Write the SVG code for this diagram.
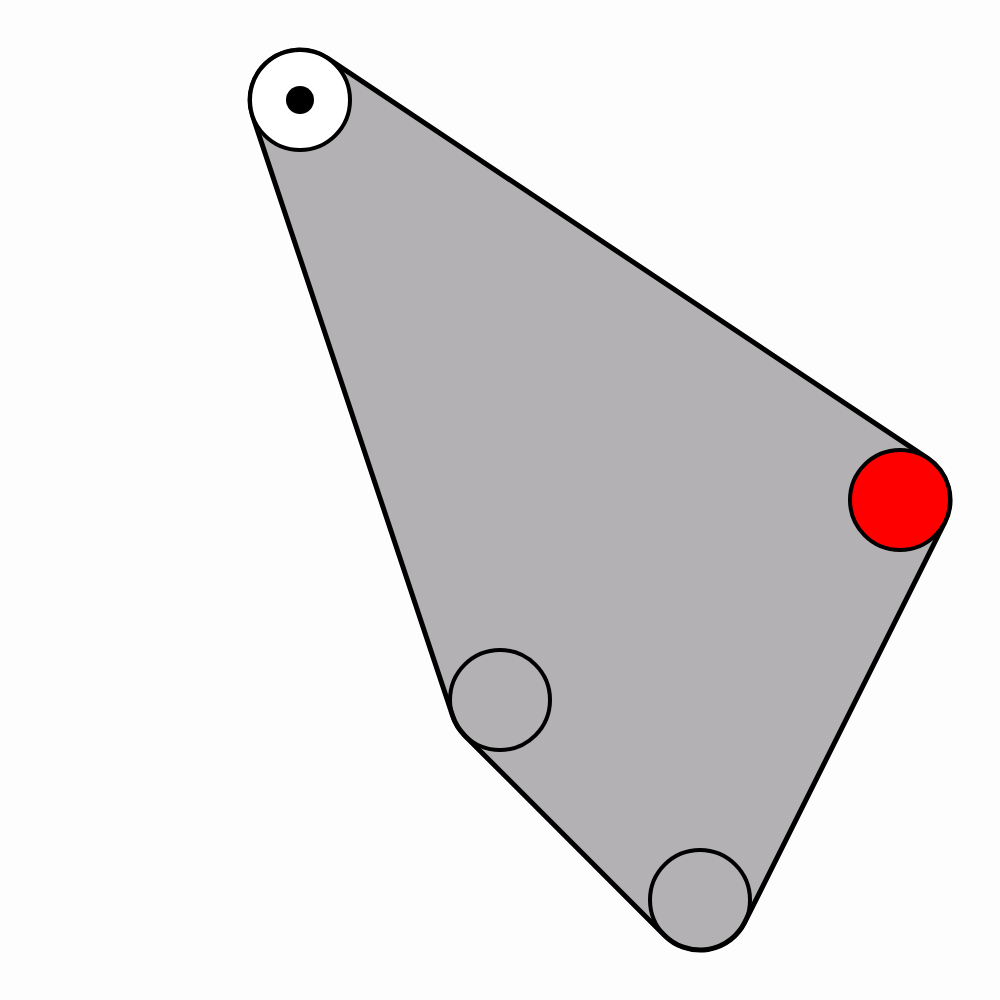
<svg xmlns="http://www.w3.org/2000/svg" width="1000" height="1000" viewBox="0 0 1000 1000">
<style>
.hull{fill:#b3b1b4;stroke:#000;stroke-width:5;stroke-linejoin:round}
.node{stroke:#000;stroke-width:4}
</style>
<rect width="1000" height="1000" fill="#fdfdfd"/>
<g id="connectors">
<path class="hull" d="M252.6,115.8 A50,50 0 0 1 327.7,58.4 L927.7,458.4 A50,50 0 0 1 944.7,522.4 L744.7,922.4 A50,50 0 0 1 664.6,935.4 L464.6,735.4 A50,50 0 0 1 452.6,715.8 Z"/>
</g>
<g id="node-start"><circle class="node" cx="300" cy="100" r="50" fill="#fff"/><circle cx="300" cy="100" r="14" fill="#000"/></g>
<g id="node-red"><circle class="node" cx="900" cy="500" r="50" fill="#f00"/></g>
<g id="node-mid"><circle class="node" cx="500" cy="700" r="50" fill="none"/></g>
<g id="node-bottom"><circle class="node" cx="700" cy="900" r="50" fill="none"/></g>
</svg>
